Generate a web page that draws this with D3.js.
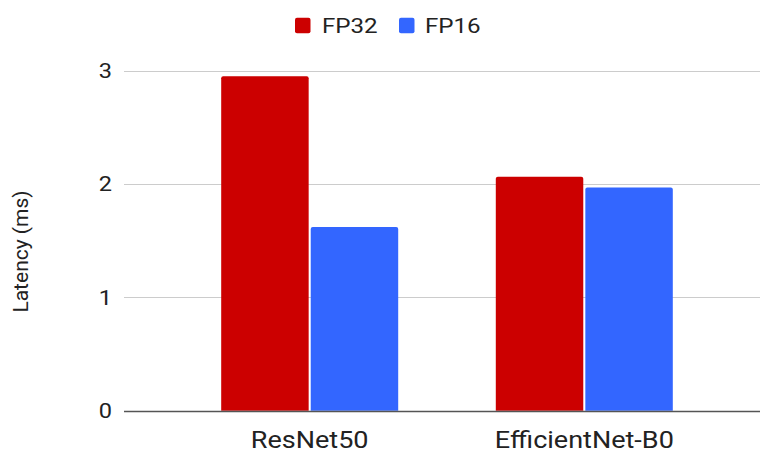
<!DOCTYPE html>
<html>
<head>
<meta charset="utf-8">
<script src="https://cdn.jsdelivr.net/npm/d3@7"></script>
<style>
  html, body { margin: 0; padding: 0; background: #fff; }
  svg { display: block; font-family: Roboto, "Noto Sans", sans-serif; }
</style>
</head>
<body>
<svg id="chart" width="760" height="450"></svg>
<script>
const categories = ["ResNet50", "EfficientNet-B0"];
const seriesNames = ["FP32", "FP16"];
const fp32Values = [2.95, 2.065];
const fp16Values = [1.62, 1.97];
const yTicks = [0, 1, 2, 3];
const colors = ["#cc0000", "#3366ff"];
const yLabel = "Latency (ms)";

const seriesValues = [fp32Values, fp16Values];
const data = categories.map((c, i) => ({
  category: c,
  values: seriesNames.map((s, j) => ({ series: s, value: seriesValues[j][i], color: colors[j] }))
}));

const svg = d3.select("#chart");
const gridLeft = 124, gridRight = 760;
const stretch = 1.15;

const y = d3.scaleLinear().domain([0, 3]).range([410.7, 70.7]);
const x0 = d3.scaleBand().domain(categories).range([172.4, 721.6])
  .paddingInner(0.3554).paddingOuter(0.1777);
const x1 = d3.scaleBand().domain(seriesNames).range([0, x0.bandwidth()]).paddingInner(0.023);

// gridlines
svg.append("g").selectAll("line").data(yTicks.filter(d => d !== 0)).join("line")
  .attr("x1", gridLeft).attr("x2", gridRight)
  .attr("y1", d => Math.round(y(d)) + 0.5).attr("y2", d => Math.round(y(d)) + 0.5)
  .attr("stroke", "#cccccc").attr("stroke-width", 1);

// y tick labels
svg.append("g").selectAll("text").data(yTicks).join("text")
  .attr("transform", d => `translate(112,${y(d) + 7.3}) scale(${stretch},1)`)
  .attr("text-anchor", "end")
  .attr("font-size", 20.5).attr("fill", "#222")
  .text(d => d);

// bars
const groups = svg.append("g").selectAll("g").data(data).join("g")
  .attr("transform", d => `translate(${x0(d.category)},0)`);
groups.selectAll("path").data(d => d.values).join("path")
  .attr("fill", d => d.color)
  .attr("d", d => {
    const bx = x1(d.series), bw = x1.bandwidth();
    const top = y(d.value), bottom = y(0), r = 2;
    return `M${bx},${bottom}V${top + r}Q${bx},${top} ${bx + r},${top}H${bx + bw - r}Q${bx + bw},${top} ${bx + bw},${top + r}V${bottom}Z`;
  });

// baseline
svg.append("line")
  .attr("x1", gridLeft).attr("x2", gridRight)
  .attr("y1", Math.round(y(0)) + 0.5).attr("y2", Math.round(y(0)) + 0.5)
  .attr("stroke", "#555").attr("stroke-width", 1.3);

// category labels
svg.append("g").selectAll("text").data(categories).join("text")
  .attr("transform", d => `translate(${x0(d) + x0.bandwidth() / 2},447.5) scale(${stretch},1)`)
  .attr("text-anchor", "middle")
  .attr("font-size", 23.5).attr("fill", "#222")
  .text(d => d);

// y label
svg.append("text")
  .attr("transform", `translate(27.5,251.5) rotate(-90)`)
  .attr("text-anchor", "middle")
  .attr("font-size", 21).attr("fill", "#222")
  .text(yLabel);

// legend
const legendItems = [
  { name: seriesNames[0], color: colors[0], sx: 295, tx: 322 },
  { name: seriesNames[1], color: colors[1], sx: 399, tx: 425 }
];
const lg = svg.append("g");
lg.selectAll("rect").data(legendItems).join("rect")
  .attr("x", d => d.sx).attr("y", 17.7).attr("width", 15.5).attr("height", 15.5)
  .attr("rx", 2).attr("fill", d => d.color);
lg.selectAll("text").data(legendItems).join("text")
  .attr("transform", d => `translate(${d.tx},33.3) scale(${stretch},1)`)
  .attr("font-size", 21).attr("fill", "#222")
  .text(d => d.name);
</script>
</body>
</html>
